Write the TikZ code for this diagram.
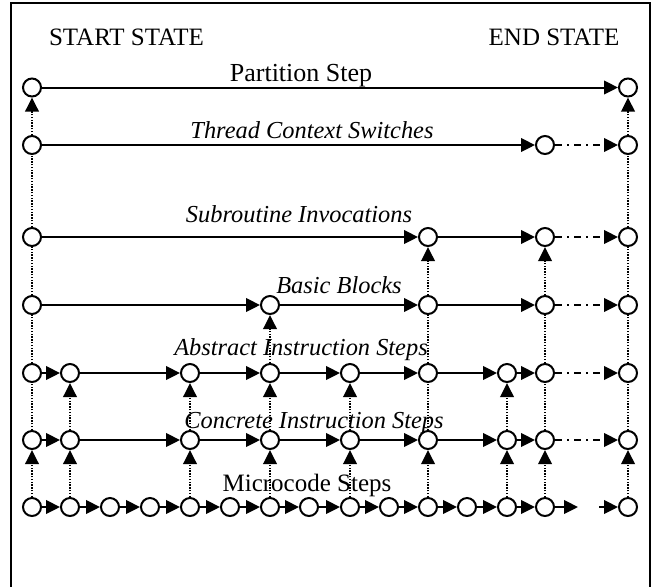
\documentclass[tikz,border=0pt]{standalone}
\usepackage{fontspec}
\setmainfont{Liberation Serif}
\usetikzlibrary{arrows.meta}
\begin{document}
\begin{tikzpicture}[x=0.5pt,y=-0.5pt,
  st/.style={circle,draw,line width=1pt,minimum size=9pt,inner sep=0pt,fill=white},
  flow/.style={line width=1pt,-{Triangle[length=7pt,width=6.8pt]}},
  flowdd/.style={flow,dash pattern=on 3.5pt off 2.5pt on 1pt off 2.5pt},
  upa/.style={line width=0.8pt,dash pattern=on 0.7pt off 0.7pt,-{Triangle[length=7pt,width=6.8pt]}},
  upn/.style={line width=0.8pt,dash pattern=on 0.7pt off 0.7pt},
  lab/.style={anchor=base,inner sep=0pt,font=\fontsize{12.5pt}{14pt}\selectfont},
  ilab/.style={anchor=base,inner sep=0pt,font=\fontsize{12.2pt}{14pt}\selectfont\itshape}
]
\path[use as bounding box] (0,0) rectangle (653,586);
\begin{scope}
\clip (0,0) rectangle (653,586);
\draw[line width=1pt] (11,620) -- (11,3) -- (650,3) -- (650,620);
\end{scope}

% labels
\node[lab] (lstart) at (126.5,45) {START STATE};
\node[lab] (lend) at (554,45) {END STATE};
\node[lab,font=\fontsize{13pt}{14pt}\selectfont] (lpart) at (301,81) {Partition Step};
\node[ilab] (lthr) at (312,138) {Thread Context Switches};
\node[ilab] (lsub) at (299,222) {Subroutine Invocations};
\node[ilab] (lbb) at (339,293) {Basic Blocks};
\node[ilab] (labs) at (301,355) {Abstract Instruction Steps};
\node[ilab] (lcon) at (314,428) {Concrete Instruction Steps};
\node[lab] (lmic) at (307,491) {Microcode Steps};

% microcode row
\foreach \n/\x in {1/32,2/70,3/110,4/150,5/190,6/230,7/270,8/309,9/350,10/389,11/428,12/467,13/507,14/545,16/628}
  \node[st] (m\n) at (\x,507) {};
% concrete & abstract rows
\foreach \n/\x in {1/32,2/70,5/190,7/270,9/350,11/428,13/507,14/545,16/628}{
  \node[st] (c\n) at (\x,440) {};
  \node[st] (a\n) at (\x,373) {};
}
% basic blocks
\foreach \n/\x in {1/32,7/270,11/428,14/545,16/628}
  \node[st] (b\n) at (\x,305) {};
% subroutines
\foreach \n/\x in {1/32,11/428,14/545,16/628}
  \node[st] (s\n) at (\x,237) {};
% threads
\foreach \n/\x in {1/32,14/545,16/628}
  \node[st] (t\n) at (\x,145) {};
% partition
\node[st] (p1) at (32,87.5) {};
\node[st] (p16) at (628,87.5) {};

% horizontal connectors
\foreach \a/\b in {1/2,2/3,3/4,4/5,5/6,6/7,7/8,8/9,9/10,10/11,11/12,12/13,13/14}
  \draw[flow] (m\a) -- (m\b);
\coordinate (mx1) at (578,507);
\coordinate (mx2) at (599,507);
\draw[flow] (m14) -- (mx1);
\draw[flow] (mx2) -- (m16);
\foreach \a/\b in {1/2,2/5,5/7,7/9,9/11,11/13,13/14}{
  \draw[flow] (c\a) -- (c\b);
  \draw[flow] (a\a) -- (a\b);
}
\draw[flowdd] (c14) -- (c16);
\draw[flowdd] (a14) -- (a16);
\foreach \a/\b in {1/7,7/11,11/14}
  \draw[flow] (b\a) -- (b\b);
\draw[flowdd] (b14) -- (b16);
\foreach \a/\b in {1/11,11/14}
  \draw[flow] (s\a) -- (s\b);
\draw[flowdd] (s14) -- (s16);
\draw[flow] (t1) -- (t14);
\draw[flowdd] (t14) -- (t16);
\draw[flow] (p1) -- (p16);

% vertical connectors
\foreach \n in {1,2,5,7,9,11,13,14,16}
  \draw[upa] (m\n) -- (c\n);
\foreach \n in {2,5,7,9,13}
  \draw[upa] (c\n) -- (a\n);
\foreach \n in {1,11,14,16}
  \draw[upn] (c\n) -- (a\n);
\draw[upa] (a7) -- (b7);
\foreach \n in {1,11,14,16}
  \draw[upn] (a\n) -- (b\n);
\draw[upn] (b1) -- (s1);
\draw[upa] (b11) -- (s11);
\draw[upa] (b14) -- (s14);
\draw[upn] (b16) -- (s16);
\draw[upn] (s1) -- (t1);
\draw[upn] (s16) -- (t16);
\draw[upa] (t1) -- (p1);
\draw[upa] (t16) -- (p16);
\end{tikzpicture}
\end{document}
